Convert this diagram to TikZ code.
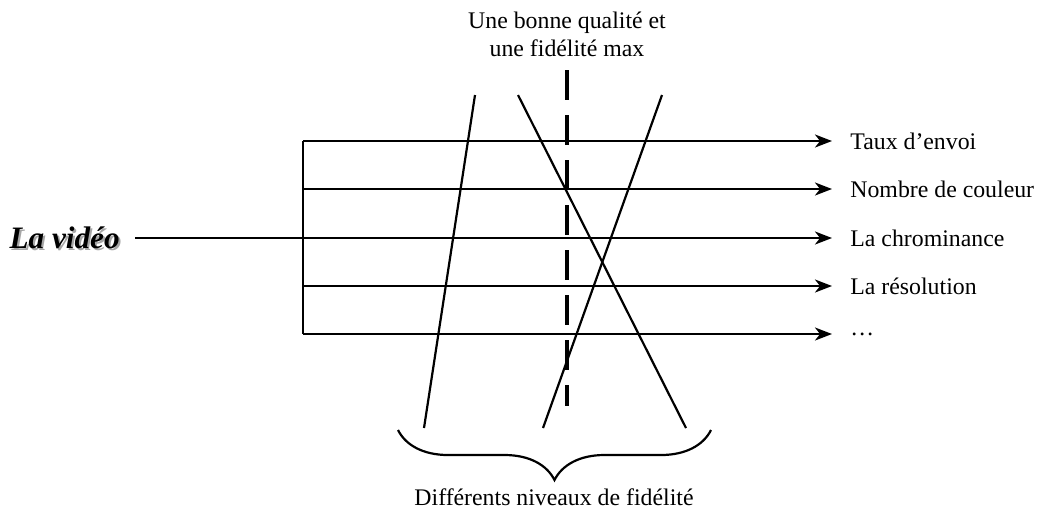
\documentclass[tikz,border=0pt]{standalone}
\usepackage{fontspec}
\setmainfont{Liberation Serif}
\usetikzlibrary{arrows.meta,decorations.pathreplacing}
\tikzset{
  lbl/.style={font=\fontsize{11.9}{14}\selectfont, inner sep=0pt},
  vidf/.style={font=\fontsize{15.6}{18}\selectfont\bfseries\itshape, inner xsep=7.5pt, inner ysep=0pt, anchor=east},
  ln/.style={line width=1.1pt},
  arr/.style={ln, -{Stealth[length=8.5pt, width=6.5pt, inset=2.5pt]}},
  brc/.style={decorate, decoration={brace, amplitude=25pt}, line width=1.1pt}}

\begin{document}
\begin{tikzpicture}[x=0.5pt, y=0.5pt]
\useasboundingbox (0,0) rectangle (1039,-511);
% the source and its branches
\node[vidf, text=black!35] (vidshadow) at (137,-240) {La vidéo};
\node[vidf] (vid) at (135,-238) {La vidéo};
\foreach \t/\y [count=\i] in {Taux d'envoi/141, Nombre de couleur/189, La chrominance/238, La résolution/286, \dots/334} {
  \node[lbl, anchor=west] (t\i) at (850,-\y) {\t};
  \coordinate (s\i) at (303,-\y);}
\draw[ln] (s1) -- (s5);
\draw[arr] (vid.east) -- ([xshift=-9pt]t3.west);
\foreach \i in {1,2,4,5} \draw[arr] (s\i) -- ([xshift=-9pt]t\i.west);
% fidelity levels
\foreach \n/\xa/\xb in {a/475/424, b/518/686, c/662/543} {
  \coordinate (\n top) at (\xa,-95); \coordinate (\n bot) at (\xb,-428);
  \draw[ln] (\n top) -- (\n bot);}
\coordinate (dtop) at (567,-70); \coordinate (dbot) at (567,-406);
\draw[line width=2pt, dash pattern=on 15pt off 7.5pt] (dtop) -- (dbot);
\node[lbl, align=center] (maxq) at (567,-34) {Une bonne qualité et\\une fidélité max};
\coordinate (bl) at (398,-430); \coordinate (br) at (711,-430);
\draw[brc] (br) -- (bl);
\node[lbl] (levels) at (554,-497) {Différents niveaux de fidélité};
\end{tikzpicture}
\end{document}
